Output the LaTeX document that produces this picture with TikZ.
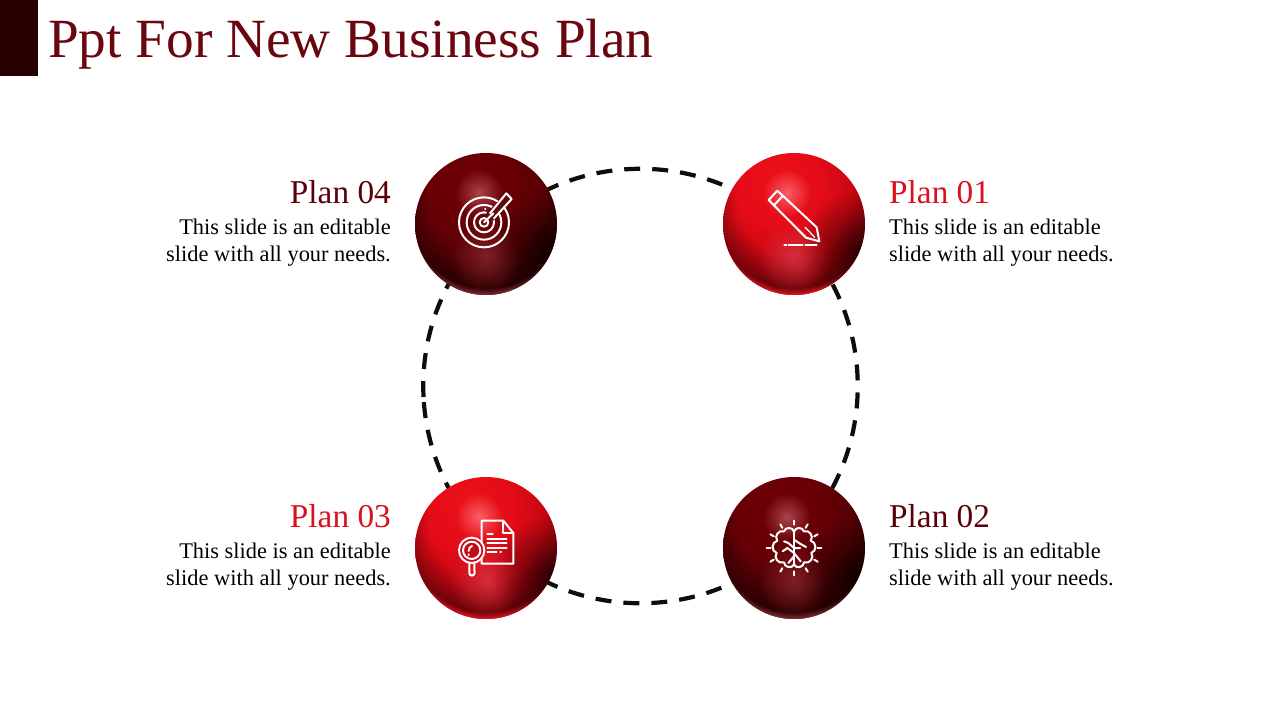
\documentclass[tikz,border=0pt]{standalone}
\usepackage{fontspec}
\setmainfont{Liberation Serif}
\usetikzlibrary{fadings}
\definecolor{titlered}{HTML}{6A0610}
\definecolor{barcol}{HTML}{270000}
\definecolor{planred}{HTML}{D9101E}
\definecolor{plandark}{HTML}{5A0008}
\definecolor{stickbg}{HTML}{600A12}
\definecolor{lensbg}{HTML}{C80812}
\definecolor{r0}{HTML}{EC1018}\definecolor{r1}{HTML}{E40C18}\definecolor{r2}{HTML}{C80812}\definecolor{r3}{HTML}{A00008}\definecolor{r4}{HTML}{700004}\definecolor{r5}{HTML}{300000}
\definecolor{d0}{HTML}{6E0006}\definecolor{d1}{HTML}{680006}\definecolor{d2}{HTML}{560004}\definecolor{d3}{HTML}{3C0002}\definecolor{d4}{HTML}{240000}\definecolor{d5}{HTML}{0C0000}
\pgfdeclareradialshading{redballs}{\pgfpoint{-7bp}{18bp}}{color(0bp)=(r0);color(15bp)=(r1);color(25bp)=(r2);color(40bp)=(r3);color(55bp)=(r4);color(75bp)=(r5)}
\pgfdeclareradialshading{darkballs}{\pgfpoint{-7bp}{18bp}}{color(0bp)=(d0);color(15bp)=(d1);color(25bp)=(d2);color(40bp)=(d3);color(55bp)=(d4);color(75bp)=(d5)}
\pgfdeclareradialshading{softsh}{\pgfpointorigin}{color(0bp)=(white);color(25bp)=(black);color(50bp)=(black)}
\pgfdeclarefading{softfade}{\pgfuseshading{softsh}}
\pgfdeclareradialshading{bandsh}{\pgfpointorigin}{color(0bp)=(black);color(15bp)=(black);color(23bp)=(white);color(50bp)=(white)}
\pgfdeclarefading{bandfade}{\pgfuseshading{bandsh}}
\pgfdeclareradialshading{rimsh}{\pgfpointorigin}{color(0bp)=(black);color(22.8bp)=(black);color(25bp)=(white);color(50bp)=(white)}
\pgfdeclarefading{rimfade}{\pgfuseshading{rimsh}}
\tikzset{
  titletext/.style={text=titlered,inner sep=0pt,anchor=base west,font=\fontsize{55.3}{58}\selectfont},
  headtext/.style={inner sep=0pt,font=\fontsize{33.3}{35}\selectfont},
  bodytext/.style={inner sep=0pt,text=black,font=\fontsize{22.4}{27}\selectfont},
  ring/.style={draw=black!95,line width=4.2pt,dash pattern=on 16pt off 12pt},
  icon/.style={draw=white,line width=2pt,line cap=round,line join=round},
  lobe/.style={bend right=75,looseness=1.25},
  lobr/.style={bend left=75,looseness=1.25},
  ball/.style={circle,minimum size=142pt,inner sep=0pt,shading=#1},
  icongrid/.style={x=.33333pt,y=-.33333pt}
}
% #1 x, #2 y, #3 name, #4 shading, #5 highlight, #6 glow, #7 rim
\newcommand{\sphereball}[7]{%
  \node[ball=#4] (#3) at (#1,#2) {};
  \begin{scope}[shift={(#1,#2)}]
    \clip (0,0) circle[radius=71pt];
    \fill[black,opacity=.42,path fading=bandfade] (0,-25) circle[radius=96pt];
    \fill[#7,path fading=rimfade] (0,-12) circle[radius=83pt];
    \fill[#5,opacity=.7,path fading=softfade] (-7,-31) circle[radius=24pt];
    \fill[#6,opacity=.75,path fading=softfade] (0,33) circle[radius=36pt];
    \fill[black,opacity=.6,path fading=softfade] (64,26) circle[radius=58pt];
  \end{scope}}
\begin{document}
\begin{tikzpicture}[x=1pt,y=-1pt]
\useasboundingbox (0,0) rectangle (1280,720);
\fill[barcol] (0,0) rectangle (38,76);
\node[titletext] (title) at (48,57.5) {Ppt For New Business Plan};
\draw[ring] (423.53,397) arc[start angle=182.9,end angle=-177.1,radius=217.25pt];

\definecolor{hr}{HTML}{FF8088}\definecolor{gr}{HTML}{D83848}\definecolor{rr}{HTML}{EC1828}
\definecolor{hd}{HTML}{C86068}\definecolor{gd}{HTML}{8A2A30}\definecolor{rd}{HTML}{8A3038}
\sphereball{794}{224}{s1}{redballs}{hr}{gr}{rr}
\sphereball{486}{224}{s4}{darkballs}{hd}{gd}{rd}
\sphereball{486}{548}{s3}{redballs}{hr}{gr}{rr}
\sphereball{794}{548}{s2}{darkballs}{hd}{gd}{rd}

% pencil
\begin{scope}[shift={(720,150)},icongrid]
  \draw[icon] (172,122) -- (146,150) -- (258,263) -- (298,274) -- (290,232) -- cycle;
  \draw[icon] (188,138) -- (162,166);
  \draw[icon,line width=1.2pt] (255,232) -- (270,247) (270,247) -- (284,262);
  \draw[icon] (193,284) -- (199,284) (206,284) -- (248,284) (256,284) -- (290,284);
\end{scope}
% target
\begin{scope}[shift={(410,150)},icongrid]
  \foreach \r in {75,52,30,13} \draw[icon] (222,217) circle[radius=\r];
  \fill[stickbg] (228,190) -- (288,130) -- (305,147) -- (250,212) -- cycle;
  \draw[icon] (240,190) -- (289,130) -- (305,147) -- (252,205);
  \draw[icon] (222,217) -- (250,190);
  \draw[icon] (225,178) -- (226,178);
\end{scope}
% document and magnifier
\begin{scope}[shift={(410,473)},icongrid]
  \draw[icon] (215,143) -- (280,143) -- (310,180) -- (310,272) -- (215,272) -- cycle;
  \draw[icon] (280,143) -- (280,180) -- (310,180);
  \draw[icon] (232,184) -- (248,184) (232,197) -- (290,197) (232,210) -- (290,210) (232,224) -- (290,224) (232,238) -- (260,238) (271,238) -- (273,238);
  \fill[lensbg] (185,232) circle[radius=38];
  \draw[icon] (185,232) circle[radius=38] (185,232) circle[radius=26];
  \draw[icon] (178,270) -- (178,300) arc[start angle=180,end angle=360,radius=2.6pt] -- (193,270);
  \draw[icon] (176,246) -- (176,244) (176,234) .. controls (176,226) and (180,221) .. (186,219);
\end{scope}
% brain
\begin{scope}[shift={(720,473)},icongrid]
  \foreach \a in {0,30,...,330} \draw[icon] ({222+70*cos(\a)},{225+70*sin(\a)}) -- ({222+82*cos(\a)},{225+82*sin(\a)});
  \draw[icon] (222,176) to[lobe] (192,175) to[lobe] (172,203) to[lobe] (170,240) to[lobe] (192,268) to[lobe] (222,275);
  \draw[icon] (222,176) to[lobr] (252,175) to[lobr] (272,203) to[lobr] (274,240) to[lobr] (252,268) to[lobr] (222,275);
  \draw[icon] (222,176) -- (222,272);
  \draw[icon] (222,225) -- (205,210) -- (192,205) (222,240) -- (202,225) -- (188,235) (222,250) -- (205,270);
  \draw[icon] (222,200) -- (240,212) -- (258,222) (222,240) -- (242,265) (222,225) -- (240,225);
\end{scope}

\node[headtext,text=planred,anchor=base west] (h1) at (889,203.5) {Plan 01};
\node[bodytext,anchor=base west] (b1a) at (889,234) {This slide is an editable};
\node[bodytext,anchor=base west] (b1b) at (889,261) {slide with all your needs.};
\node[headtext,text=plandark,anchor=base west] (h2) at (889,527.5) {Plan 02};
\node[bodytext,anchor=base west] (b2a) at (889,558) {This slide is an editable};
\node[bodytext,anchor=base west] (b2b) at (889,585) {slide with all your needs.};
\node[headtext,text=planred,anchor=base east] (h3) at (391,527.5) {Plan 03};
\node[bodytext,anchor=base east] (b3a) at (391,558) {This slide is an editable};
\node[bodytext,anchor=base east] (b3b) at (391,585) {slide with all your needs.};
\node[headtext,text=plandark,anchor=base east] (h4) at (391,203.5) {Plan 04};
\node[bodytext,anchor=base east] (b4a) at (391,234) {This slide is an editable};
\node[bodytext,anchor=base east] (b4b) at (391,261) {slide with all your needs.};
\end{tikzpicture}
\end{document}
